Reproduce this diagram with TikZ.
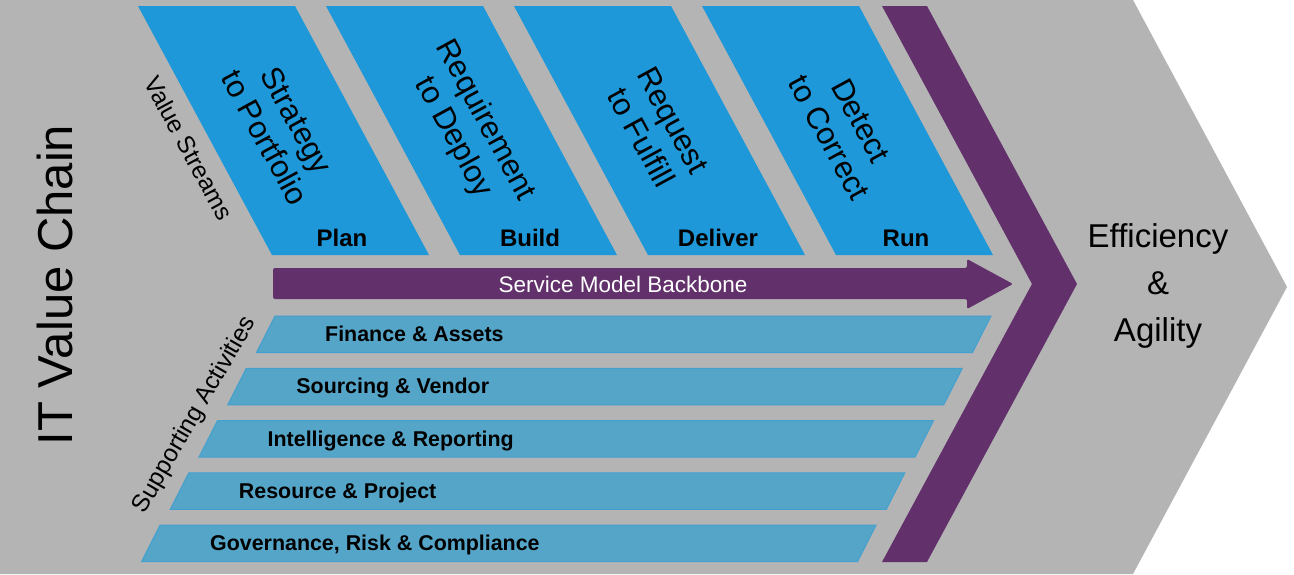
\documentclass[tikz,border=0pt]{standalone}
\usepackage{fontspec}
\setmainfont{Liberation Sans}
\definecolor{bggray}{RGB}{180,180,180}
\definecolor{vsblue}{RGB}{30,152,216}
\definecolor{sabar}{RGB}{85,165,200}
\definecolor{saline}{RGB}{68,160,206}
\definecolor{purp}{RGB}{98,49,107}
\begin{document}
\begin{tikzpicture}[x=1pt,y=-1pt,
  vsbox/.style={fill=vsblue},
  sabox/.style={fill=sabar,draw=saline,line width=1pt},
  vstext/.style={font=\fontsize{31}{36}\selectfont,align=center,rotate=-61.5,inner sep=0pt},
  phase/.style={font=\bfseries\fontsize{24}{28}\selectfont,anchor=base,inner sep=0pt},
  satext/.style={font=\bfseries\fontsize{21.4}{25}\selectfont,anchor=base west,inner sep=0pt},
  sidetext/.style={font=\fontsize{24.5}{28}\selectfont,inner sep=0pt}]
\useasboundingbox (0,0) rectangle (1294,574);
\fill[white] (0,0) rectangle (1294,574);
% background chevron
\fill[bggray] (0,0) -- (1133,0) -- (1287,287) -- (1133,574) -- (0,574) -- cycle;
% value stream boxes
\foreach \i/\top/\bot/\ph/\nm in {0/Strategy/to Portfolio/Plan/sp,1/Requirement/to Deploy/Build/rd,2/Request/to Fulfill/Deliver/rf,3/Detect/to Correct/Run/dc}{
  \pgfmathsetmacro{\xa}{138+188*\i}
  \fill[vsbox] (\xa,6) -- (\xa+157,6) -- (\xa+291,255) -- (\xa+134,255) -- cycle;
  \node[vstext] (\nm) at (\xa+143,129) {\top\\\bot};
  \node[phase] (\nm-ph) at (\xa+204,246) {\ph};
}
\node[sidetext,rotate=-61.5] (vs) at (189,148) {Value Streams};
% service model backbone arrow
\fill[purp,rounded corners=2pt] (273,268) -- (967,268) -- (967,259) -- (1013,284) -- (967,309) -- (967,299) -- (273,299) -- cycle;
\node[font=\fontsize{22.5}{26}\selectfont,text=white,inner sep=0pt] (smb) at (623,284) {Service Model Backbone};
% purple chevron
\fill[purp] (882,6) -- (927,6) -- (1077,284) -- (927,562) -- (882,562) -- (1032,284) -- cycle;
% supporting activities bars
\foreach \i/\lab/\nm in {0/Finance \& Assets/fa,1/Sourcing \& Vendor/sv,2/Intelligence \& Reporting/ir,3/Resource \& Project/rp,4/{Governance, Risk \& Compliance}/grc}{
  \pgfmathsetmacro{\xa}{275-28.75*\i}
  \pgfmathsetmacro{\ya}{316+52.3*\i}
  \draw[sabox] (\xa,\ya) -- (\xa+716,\ya) -- (\xa+697.5,\ya+36.5) -- (\xa-18.5,\ya+36.5) -- cycle;
  \node[satext] (\nm) at (\xa+50,\ya+25.5) {\lab};
}
\node[sidetext,rotate=60] (sa) at (195,415) {Supporting Activities};
% title
\node[font=\fontsize{49}{56}\selectfont,rotate=90,inner sep=0pt] (title) at (55,285) {IT Value Chain};
% outcome
\node[font=\fontsize{33}{47}\selectfont,align=center,inner sep=0pt] (out) at (1158,286) {Efficiency\\\&\\Agility};
\end{tikzpicture}
\end{document}
